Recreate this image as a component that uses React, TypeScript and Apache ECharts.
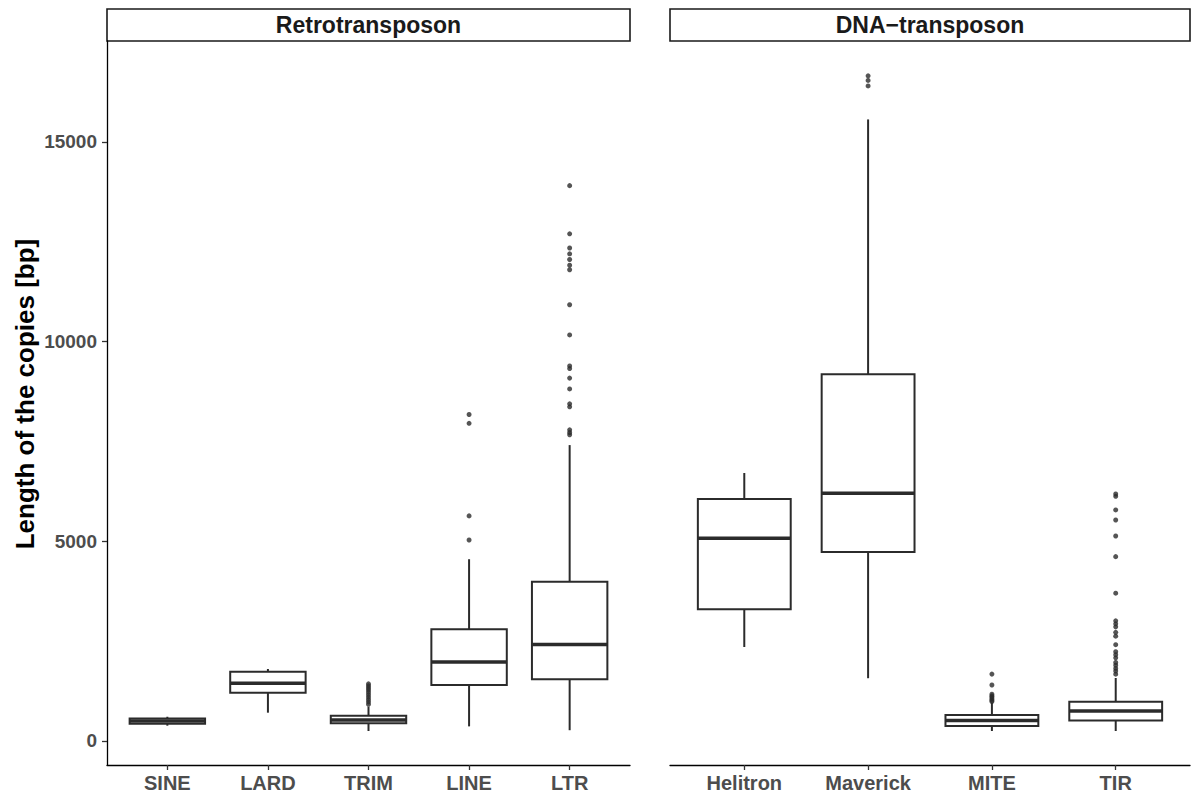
import React, { useEffect, useRef } from "react";
import * as echarts from "echarts";

// ---- data ----
const retroCats = ["SINE", "LARD", "TRIM", "LINE", "LTR"];
const dnaCats = ["Helitron", "Maverick", "MITE", "TIR"];

// [lower whisker, Q1, median, Q3, upper whisker]
const retroStats = [
  [383, 430, 500, 565, 607],
  [709, 1210, 1445, 1735, 1803],
  [250, 443, 526, 634, 859],
  [366, 1402, 1978, 2800, 4552],
  [270, 1545, 2416, 3989, 7410],
];
const dnaStats = [
  [2354, 3298, 5078, 6057, 6711],
  [1572, 4733, 6205, 9182, 15565],
  [250, 378, 516, 651, 964],
  [250, 516, 749, 982, 1578],
];

const sineOutliers: number[] = [];
const lardOutliers: number[] = [];
const trimOutliers = [920, 980, 1040, 1100, 1160, 1220, 1280, 1330, 1380, 1430];
const lineOutliers = [5033, 5637, 7955, 8176];
const ltrOutliers = [7668, 7725, 7793, 8369, 8444, 8817, 9087, 9326, 9393, 10169, 10925, 11800, 11914, 12057, 12200, 12345, 12700, 13907];
const helitronOutliers: number[] = [];
const maverickOutliers = [16404, 16541, 16657];
const miteOutliers = [990, 1020, 1060, 1100, 1130, 1170, 1402, 1675];
const tirOutliers = [1674, 1752, 1820, 1897, 1965, 2082, 2160, 2237, 2412, 2625, 2722, 2858, 2935, 3010, 3701, 4617, 5133, 5534, 5787, 6127, 6185];

const retroOutliers = [sineOutliers, lardOutliers, trimOutliers, lineOutliers, ltrOutliers];
const dnaOutliers = [helitronOutliers, maverickOutliers, miteOutliers, tirOutliers];

const yTicks = [0, 5000, 10000, 15000];
const Y_MIN = -601;
const Y_MAX = 17529;

const FONT = "'Liberation Sans', Arial, sans-serif";
const BOX_COLOR = "#2b2b2b";

function boxRender(params: any, api: any) {
  const x = api.value(0);
  const lo = api.coord([x, api.value(1)]);
  const q1 = api.coord([x, api.value(2)]);
  const med = api.coord([x, api.value(3)]);
  const q3 = api.coord([x, api.value(4)]);
  const hi = api.coord([x, api.value(5)]);
  const halfW = api.size([0.75, 0])[0] / 2;
  const cx = q1[0];
  const lineStyle = { stroke: BOX_COLOR, lineWidth: 2, fill: null };
  return {
    type: "group",
    children: [
      { type: "line", shape: { x1: cx, y1: q3[1], x2: cx, y2: hi[1] }, style: lineStyle },
      { type: "line", shape: { x1: cx, y1: q1[1], x2: cx, y2: lo[1] }, style: lineStyle },
      {
        type: "rect",
        shape: { x: cx - halfW, y: q3[1], width: halfW * 2, height: q1[1] - q3[1] },
        style: { stroke: BOX_COLOR, lineWidth: 2, fill: "#ffffff" },
      },
      {
        type: "line",
        shape: { x1: cx - halfW, y1: med[1], x2: cx + halfW, y2: med[1] },
        style: { stroke: BOX_COLOR, lineWidth: 3.5, fill: null },
      },
    ],
  };
}

function xAxisFor(cats: string[], gridIndex: number) {
  const vals = cats.map((_, i) => i);
  return {
    type: "value",
    gridIndex,
    min: -0.6,
    max: cats.length - 0.4,
    splitLine: { show: false },
    axisLine: { show: true, onZero: false, lineStyle: { color: "#000", width: 1.3 } },
    axisTick: { show: true, length: 5, customValues: vals, lineStyle: { color: "#333", width: 1.3 } },
    axisLabel: {
      show: true,
      customValues: vals,
      formatter: (v: number) => cats[Math.round(v)] ?? "",
      color: "#4d4d4d",
      fontWeight: "bold",
      fontSize: 20,
      fontFamily: FONT,
      margin: 8,
    },
  };
}

export default function App() {
  const ref = useRef<HTMLDivElement>(null);
  useEffect(() => {
    if (!ref.current) return;
    const chart = echarts.init(ref.current, undefined, { renderer: "svg" });

    const retroBoxData = retroStats.map((s, i) => [i, ...s]);
    const dnaBoxData = dnaStats.map((s, i) => [i, ...s]);
    const retroOutData: number[][] = [];
    retroOutliers.forEach((arr, i) => arr.forEach((v) => retroOutData.push([i, v])));
    const dnaOutData: number[][] = [];
    dnaOutliers.forEach((arr, i) => arr.forEach((v) => dnaOutData.push([i, v])));

    const option: any = {
      animation: false,
      backgroundColor: "#ffffff",
      grid: [
        { left: 107, top: 41, width: 523, height: 724 },
        { left: 670, top: 41, width: 520, height: 724 },
      ],
      xAxis: [xAxisFor(retroCats, 0), xAxisFor(dnaCats, 1)],
      yAxis: [
        {
          type: "value",
          gridIndex: 0,
          min: Y_MIN,
          max: Y_MAX,
          splitLine: { show: false },
          axisLine: { show: true, onZero: false, lineStyle: { color: "#000", width: 1.3 } },
          axisTick: { show: true, length: 5, customValues: yTicks, lineStyle: { color: "#333", width: 1.3 } },
          axisLabel: {
            show: true,
            customValues: yTicks,
            formatter: (v: number) => String(Math.round(v)),
            color: "#4d4d4d",
            fontWeight: "bold",
            fontSize: 19,
            fontFamily: FONT,
            margin: 10,
          },
        },
        {
          type: "value",
          gridIndex: 1,
          min: Y_MIN,
          max: Y_MAX,
          show: false,
          splitLine: { show: false },
        },
      ],
      series: [
        {
          type: "custom",
          xAxisIndex: 0,
          yAxisIndex: 0,
          renderItem: boxRender,
          encode: { x: 0, y: [1, 2, 3, 4, 5] },
          data: retroBoxData,
        },
        {
          type: "custom",
          xAxisIndex: 1,
          yAxisIndex: 1,
          renderItem: boxRender,
          encode: { x: 0, y: [1, 2, 3, 4, 5] },
          data: dnaBoxData,
        },
        {
          type: "scatter",
          xAxisIndex: 0,
          yAxisIndex: 0,
          symbol: "circle",
          symbolSize: 5,
          itemStyle: { color: BOX_COLOR },
          data: retroOutData,
        },
        {
          type: "scatter",
          xAxisIndex: 1,
          yAxisIndex: 1,
          symbol: "circle",
          symbolSize: 5,
          itemStyle: { color: BOX_COLOR },
          data: dnaOutData,
        },
      ],
      graphic: [
        {
          type: "rect",
          shape: { x: 107, y: 9, width: 523, height: 32 },
          style: { fill: "#ffffff", stroke: "#1a1a1a", lineWidth: 1.6 },
        },
        {
          type: "rect",
          shape: { x: 670, y: 9, width: 520, height: 32 },
          style: { fill: "#ffffff", stroke: "#1a1a1a", lineWidth: 1.6 },
        },
        {
          type: "text",
          x: 368.5,
          y: 25,
          style: {
            text: "Retrotransposon",
            fill: "#1a1a1a",
            font: `bold 23px ${FONT}`,
            textAlign: "center",
            textVerticalAlign: "middle",
          },
        },
        {
          type: "text",
          x: 930,
          y: 25,
          style: {
            text: "DNA\u2212transposon",
            fill: "#1a1a1a",
            font: `bold 23px ${FONT}`,
            textAlign: "center",
            textVerticalAlign: "middle",
          },
        },
        {
          type: "text",
          x: 25,
          y: 394,
          rotation: Math.PI / 2,
          style: {
            text: "Length of the copies [bp]",
            fill: "#000000",
            font: `bold 26px ${FONT}`,
            textAlign: "center",
            textVerticalAlign: "middle",
          },
        },
      ],
    };
    chart.setOption(option);
    return () => chart.dispose();
  }, []);
  return (
    <div
      ref={ref}
      style={{ position: "fixed", left: 0, top: 0, width: 1193, height: 799, background: "#fff" }}
    />
  );
}
